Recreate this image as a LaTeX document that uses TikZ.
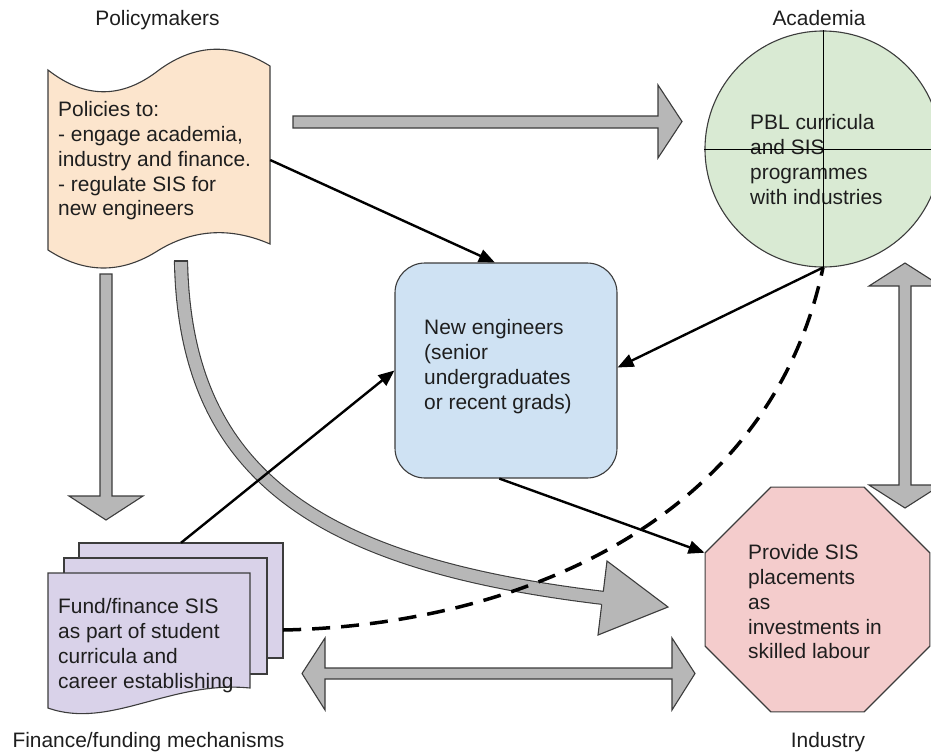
\documentclass[tikz,border=0pt]{standalone}
\usepackage{fontspec}
\setmainfont{Liberation Sans}
\usetikzlibrary{arrows.meta,shapes.geometric,calc}
\definecolor{peach}{HTML}{FCE5CD}
\definecolor{acagreen}{HTML}{D9EAD3}
\definecolor{neblue}{HTML}{CFE2F3}
\definecolor{fundpurple}{HTML}{D9D2E9}
\definecolor{indpink}{HTML}{F4CCCC}
\definecolor{arrgray}{HTML}{B7B7B7}
\definecolor{edgecol}{HTML}{3C3C3C}
\definecolor{txtcol}{HTML}{1E1E1E}
\begin{document}
\begin{tikzpicture}[x=1pt,y=-1pt,
  txt/.style={font=\fontsize{20.9pt}{24.9pt}\selectfont, text=txtcol, inner sep=0pt, align=left, anchor=north west},
  lbl/.style={font=\fontsize{20.9pt}{24.9pt}\selectfont, text=txtcol, inner sep=0pt, anchor=base},
  outl/.style={draw=edgecol, line width=1.1pt},
  blockarrow/.style={fill=arrgray, draw=edgecol, line width=1.1pt, line join=miter},
  conn/.style={draw=black, line width=2.4pt, -{Triangle[length=16pt,width=13pt]}},
  dashconn/.style={draw=black, line width=3.5pt, dash pattern=on 18pt off 11pt}
]
\useasboundingbox (0,0) rectangle (931,753);

% ---- Policymakers (punched tape shape)
\node[inner sep=0pt, minimum width=222pt, minimum height=220pt] (pol) at (159,160) {};
\filldraw[outl, fill=peach] (48,70) .. controls (85,99) and (122,99) .. (159,70)
  .. controls (196,43) and (233,43) .. (270,66) -- (270,244)
  .. controls (233,228) and (196,228) .. (159,250)
  .. controls (122,274) and (85,274) .. (48,250) -- cycle;

% ---- Academia (circle with cross)
\node[circle, outl, fill=acagreen, minimum size=236pt, inner sep=0pt] (aca) at (823,149) {};

% ---- New engineers
\node[outl, fill=neblue, rounded corners=30pt, minimum width=222pt, minimum height=215pt, inner sep=0pt] (ne) at (506,370.5) {};

% ---- Finance/funding (stacked documents)
\node[inner sep=0pt, minimum width=204pt, minimum height=115pt] (fund) at (181,600.5) {};
\filldraw[outl, fill=fundpurple] (79,543) rectangle (283,658);
\filldraw[outl, fill=fundpurple] (64,558) rectangle (267,674);
\filldraw[outl, fill=fundpurple] (48,573) -- (250,573) -- (250,688)
  .. controls (170,680) and (110,730) .. (48,708) -- cycle;

% ---- Industry (octagon)
\node[regular polygon, regular polygon sides=8, minimum size=243.4pt, inner sep=0pt, outl, fill=indpink] (ind) at (817.5,599.5) {};

% ---- straight block arrows
\filldraw[blockarrow] (293,116) -- (658,116) -- (658,85) -- (682,121.5) -- (658,158) -- (658,128) -- (293,128) -- cycle;
\filldraw[blockarrow] (100,274) -- (112,274) -- (112,496) -- (143,496) -- (106,520) -- (69,496) -- (100,496) -- cycle;
\filldraw[blockarrow] (899,286) -- (869,286) -- (905,263) -- (941,286) -- (911,286) -- (911,485) -- (941,485) -- (905,508) -- (869,485) -- (899,485) -- cycle;
\filldraw[blockarrow] (325,668) -- (325,638) -- (302,673.5) -- (325,710) -- (325,679) -- (672,679) -- (672,710) -- (695,673.5) -- (672,638) -- (672,668) -- cycle;

% ---- curved block arrow
\draw[draw=edgecol, line width=1.1pt, double=arrgray, double distance=12pt] (181,261) .. controls (185,476) and (319,564) .. (604,598);
\draw[draw=edgecol, line width=1.1pt] (173.9,261) -- (188.1,261);
\fill[arrgray] (607,561) -- (668,607) -- (598,635) -- cycle;
\draw[draw=edgecol, line width=1.1pt, line join=miter] (603.3,591.5) -- (607,561) -- (668,607) -- (598,635) -- (601.7,604.5);

% ---- dashed connector
\draw[dashconn] ($(fund.east)+(0,29.5)$) .. controls (520,625) and (770,520) .. (aca.south);

% ---- black connectors
\draw[conn] (pol.east) -- ($(ne.north west)!0.45!(ne.north east)$);
\draw[conn] (aca.south) -- ($(ne.east)+(0,-3)$);
\draw[conn] (fund.north) -- (ne.west);
\draw[conn] ($(ne.south west)!0.47!(ne.south east)$) -- (ind.corner 3);

% ---- texts
\node[txt] (polT) at (58,101) {Policies to:\\- engage academia,\\industry and finance.\\- regulate SIS for\\new engineers};
\node[txt] (acaT) at (750,114) {PBL curricula\\and SIS\\programmes\\with industries};
\draw[black, line width=0.9pt] (aca.north) -- (aca.south);
\draw[black, line width=0.9pt] (aca.west) -- (aca.east);
\node[txt] (neT) at (424,319) {New engineers\\(senior\\undergraduates\\or recent grads)};
\node[txt] (fundT) at (58,598) {Fund/finance SIS\\as part of student\\curricula and\\career establishing};
\node[txt] (indT) at (748,544) {Provide SIS\\placements\\as\\investments in\\skilled labour};

\node[lbl] (polL) at (157.5,25) {Policymakers};
\node[lbl] (acaL) at (819,25) {Academia};
\node[lbl] (fundL) at (148.5,747) {Finance/funding mechanisms};
\node[lbl] (indL) at (828,747) {Industry};
\end{tikzpicture}
\end{document}
